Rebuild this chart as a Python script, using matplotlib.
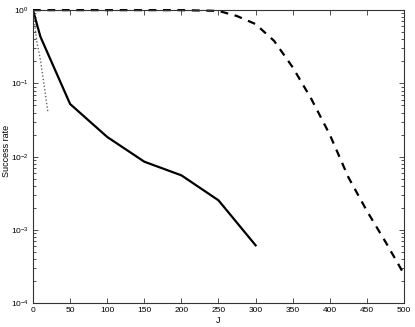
import matplotlib.pyplot as plt
from matplotlib.ticker import LogLocator, NullFormatter, MultipleLocator

plt.rcParams['font.family'] = ['Liberation Sans', 'DejaVu Sans']
plt.rcParams['mathtext.fontset'] = 'custom'
plt.rcParams['mathtext.rm'] = 'Liberation Sans'

# solid curve
J_solid = [0, 10, 50, 100, 150, 200, 250, 300]
rate_solid = [1.0, 0.434, 0.0524, 0.0186, 0.00855, 0.00557, 0.00254, 0.000618]

# dotted curve
J_dot = [0, 5, 10, 15, 20]
rate_dot = [1.0, 0.38, 0.21, 0.095, 0.041]

# dashed curve
J_dash = [0, 50, 100, 150, 200, 250, 275, 300, 325, 350, 375, 400, 425, 450, 475, 500]
rate_dash = [1.0, 1.0, 1.0, 1.0, 1.0, 0.977, 0.83, 0.645, 0.38, 0.166, 0.0617,
             0.02, 0.00525, 0.00182, 0.00069, 0.00025]

fig = plt.figure(figsize=(4.15, 3.27), dpi=100)
ax = fig.add_axes([0.0795, 0.0725, 0.894, 0.8965])

ax.plot(J_solid, rate_solid, color='black', lw=1.6, solid_joinstyle='miter')
ax.plot(J_dot, rate_dot, color='#666666', lw=1.0, linestyle=(0, (1, 1.5)))
ax.plot(J_dash, rate_dash, color='black', lw=1.6, linestyle=(0, (3.5, 3)),
        clip_on=False)

ax.set_yscale('log')
ax.set_xlim(0, 500)
ax.set_ylim(1e-4, 1)
ax.xaxis.set_major_locator(MultipleLocator(50))
ax.yaxis.set_major_locator(LogLocator(base=10, numticks=10))
ax.yaxis.set_minor_locator(LogLocator(base=10, subs=range(2, 10), numticks=10))
ax.yaxis.set_minor_formatter(NullFormatter())

ax.tick_params(which='both', direction='in', top=True, right=True,
               labelsize=6, width=0.6, color='#333333')
ax.tick_params(which='major', length=3.5, pad=3)
ax.tick_params(which='minor', length=2)
for s in ax.spines.values():
    s.set_linewidth(0.8)
    s.set_color('#333333')

ax.set_xlabel('J', fontsize=6.5, labelpad=1)
ax.set_ylabel('Success rate', fontsize=6.5)
ax.yaxis.set_label_coords(-0.06, 0.52)

fig.savefig('out.png', dpi=100)
